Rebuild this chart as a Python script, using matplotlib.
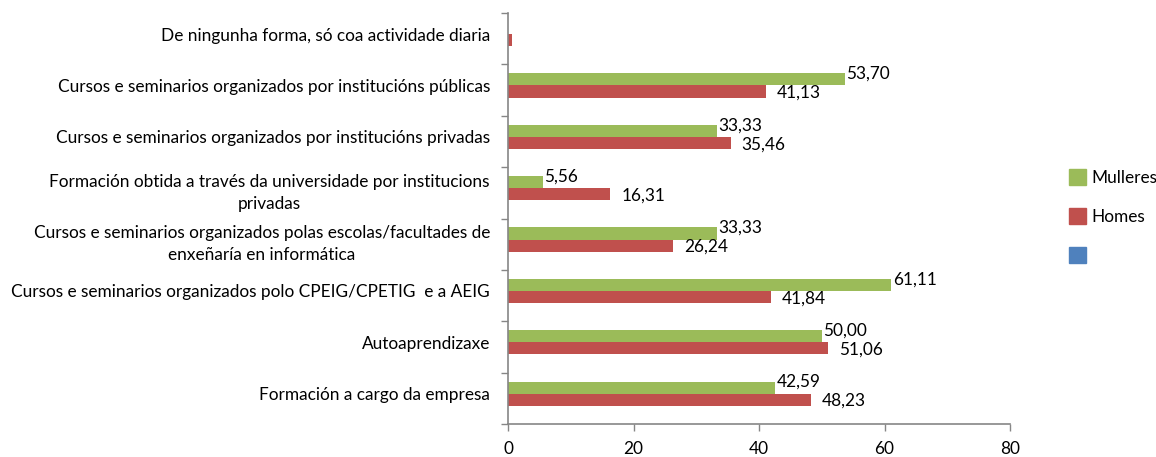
import matplotlib
matplotlib.use("Agg")
import matplotlib.pyplot as plt
from matplotlib.patches import Patch
import numpy as np

plt.rcParams['font.family'] = ['Lato', 'DejaVu Sans']

categories = [
    "Formación a cargo da empresa",
    "Autoaprendizaxe",
    "Cursos e seminarios organizados polo CPEIG/CPETIG  e a AEIG",
    "Cursos e seminarios organizados polas escolas/facultades de\nenxeñaría en informática",
    "Formación obtida a través da universidade por institucions\nprivadas",
    "Cursos e seminarios organizados por institucións privadas",
    "Cursos e seminarios organizados por institucións públicas",
    "De ningunha forma, só coa actividade diaria",
]
mulleres = [42.59, 50.00, 61.11, 33.33, 5.56, 33.33, 53.70, 0.0]
homes = [48.23, 51.06, 41.84, 26.24, 16.31, 35.46, 41.13, 0.71]
# last category has no value labels in the source table
show_label = [True] * 7 + [False]

green = "#9BBB59"
red = "#C0504D"
blue = "#4F81BD"
axis_grey = "#868686"

fig = plt.figure(figsize=(11.56, 4.57), dpi=100)
ax = fig.add_axes([508 / 1156, 33 / 457, 502 / 1156, 411 / 457])

y = np.arange(len(categories))
h = 0.235
lift = 0.09  # bar pairs sit a bit above the slot centre
ax.barh(y + lift + h / 2, mulleres, height=h, color=green)
ax.barh(y + lift - h / 2, homes, height=h, color=red)

for i in range(len(categories)):
    if not show_label[i]:
        continue
    ax.annotate(f"{mulleres[i]:.2f}".replace(".", ","), (mulleres[i], y[i] + lift + h / 2),
                xytext=(1, 4), textcoords="offset points", ha="left", va="center",
                fontsize=12.4)
    ax.annotate(f"{homes[i]:.2f}".replace(".", ","), (homes[i], y[i] + lift - h / 2),
                xytext=(8, -1), textcoords="offset points", ha="left", va="center",
                fontsize=12.4)

ax.set_xlim(0, 80)
ax.set_ylim(-0.5, len(categories) - 0.5)
ax.set_xticks([0, 20, 40, 60, 80])
ax.set_yticks(y + lift)
ax.set_yticklabels(categories, fontsize=12.4, linespacing=1.45)
for lbl in ax.get_yticklabels():
    lbl.set_multialignment("center")
ax.set_yticks(np.arange(-0.5, len(categories), 1.0), minor=True)
ax.tick_params(axis="y", which="major", length=0, pad=13)
ax.tick_params(axis="y", which="minor", length=5, color=axis_grey, width=1)
ax.tick_params(axis="x", length=5, color=axis_grey, width=1, pad=7, labelsize=12.4)

for side in ("top", "right"):
    ax.spines[side].set_visible(False)
for side in ("left", "bottom"):
    ax.spines[side].set_color(axis_grey)
    ax.spines[side].set_linewidth(1.2)

handles = [Patch(color=green, label="Mulleres"),
           Patch(color=red, label="Homes"),
           Patch(color=blue, label="")]
fig.legend(handles=handles, loc="upper left", bbox_to_anchor=(1053 / 1156, 1 - 154 / 457),
           frameon=False, fontsize=12.4, handlelength=1.0, handleheight=1.0,
           handletextpad=0.35, labelspacing=1.3)

fig.savefig("out.png", dpi=100)
